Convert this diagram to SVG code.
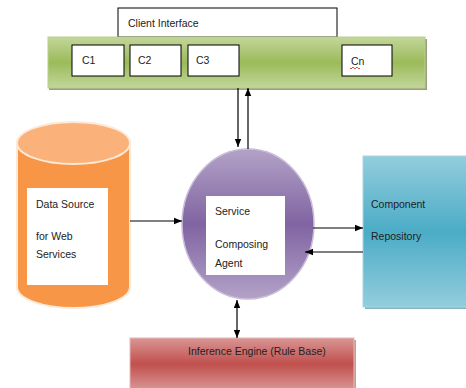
<svg xmlns="http://www.w3.org/2000/svg" width="466" height="388" viewBox="0 0 466 388">
<defs>
<linearGradient id="gGreen" x1="0" y1="0" x2="0" y2="1">
<stop offset="0" stop-color="#c3d69b"/><stop offset="0.5" stop-color="#9bbb59"/><stop offset="1" stop-color="#c3d69b"/>
</linearGradient>
<linearGradient id="gBlue" x1="0" y1="0" x2="0" y2="1">
<stop offset="0" stop-color="#93cddd"/><stop offset="0.5" stop-color="#4bacc6"/><stop offset="1" stop-color="#93cddd"/>
</linearGradient>
<linearGradient id="gRed" x1="0" y1="0" x2="0" y2="1">
<stop offset="0" stop-color="#d99694"/><stop offset="0.5" stop-color="#c0504d"/><stop offset="1" stop-color="#d99694"/>
</linearGradient>
<linearGradient id="gPurple" x1="0" y1="0" x2="0" y2="1">
<stop offset="0" stop-color="#b3a2c7"/><stop offset="0.5" stop-color="#8064a2"/><stop offset="1" stop-color="#b3a2c7"/>
</linearGradient>
<marker id="ah" viewBox="0 0 10 10" refX="10" refY="5" markerWidth="7" markerHeight="7" orient="auto-start-reverse">
<path d="M0,1 L10,5 L0,9 z" fill="#000"/>
</marker>
<style>
text{font-family:"Liberation Sans",Arial,sans-serif;font-size:10.5px;fill:#222}
.wb{fill:#fff;stroke:#000;stroke-width:1}
.ln{stroke:#000;stroke-width:1.2;fill:none}
</style>
</defs>

<g id="client-interface">
<rect class="wb" x="118" y="8" width="219" height="29"/>
<text x="128" y="27">Client Interface</text>
</g>

<g id="client-bar">
<rect x="49" y="39" width="378" height="51" fill="#4f6228" opacity="0.6"/>
<rect x="48" y="37" width="377" height="51" fill="url(#gGreen)" stroke="#b9cf88" stroke-width="1"/>
</g>
<g id="c1"><rect class="wb" x="72" y="45" width="52" height="31"/><text x="82" y="64">C1</text></g>
<g id="c2"><rect class="wb" x="130" y="45" width="51" height="31"/><text x="138" y="64">C2</text></g>
<g id="c3"><rect class="wb" x="188" y="45" width="51" height="31"/><text x="196" y="64">C3</text></g>
<g id="cn"><rect class="wb" x="342" y="45" width="50" height="31"/><text x="351" y="65">Cn</text>
<path d="M350,68 q1,2 2,0 t2,0 t2,0 t2,0 t2,0" fill="none" stroke="#e02020" stroke-width="0.8"/></g>

<g id="data-source">
<path d="M17,143 L17,287 A56.5,21 0 0 0 130,287 L130,143" fill="#f79646" stroke="#fde9d9" stroke-width="2"/>
<ellipse cx="73.5" cy="143" rx="56.5" ry="21" fill="#fab27a" stroke="#fde9d9" stroke-width="2"/>
<rect x="27" y="188" width="81" height="97" fill="#fff"/>
<text x="36" y="208">Data Source</text>
<text x="36" y="240">for Web</text>
<text x="36" y="258">Services</text>
</g>

<g id="service-agent">
<ellipse cx="248" cy="224" rx="66" ry="75" fill="url(#gPurple)" stroke="#c9bcd9" stroke-width="1.5"/>
<rect x="206" y="196" width="79" height="79" fill="#fff"/>
<text x="215" y="215">Service</text>
<text x="215" y="248">Composing</text>
<text x="215" y="267">Agent</text>
</g>

<g id="component-repository">
<rect x="365" y="158" width="103" height="151" fill="#31859b" opacity="0.6"/>
<rect x="363" y="156" width="105" height="151" fill="url(#gBlue)" stroke="#a5d5e2" stroke-width="1"/>
<text x="371" y="208">Component</text>
<text x="371" y="240">Repository</text>
</g>

<g id="inference-engine">
<rect x="132" y="340" width="224" height="50" fill="#943634" opacity="0.5"/>
<rect x="130" y="338" width="224" height="52" fill="url(#gRed)" stroke="#e6b9b8" stroke-width="1"/>
<text x="188" y="355">Inference Engine (Rule Base)</text>
</g>

<g id="connectors">
<line class="ln" x1="238" y1="88" x2="238" y2="147" marker-end="url(#ah)"/>
<line class="ln" x1="248" y1="149" x2="248" y2="88" marker-end="url(#ah)"/>
<line class="ln" x1="130" y1="221" x2="182" y2="221" marker-end="url(#ah)"/>
<line class="ln" x1="313" y1="228" x2="363" y2="228" marker-end="url(#ah)"/>
<line class="ln" x1="363" y1="252" x2="305" y2="252" marker-end="url(#ah)"/>
<line class="ln" x1="237" y1="300" x2="237" y2="338" marker-start="url(#ah)" marker-end="url(#ah)"/>
</g>
</svg>
